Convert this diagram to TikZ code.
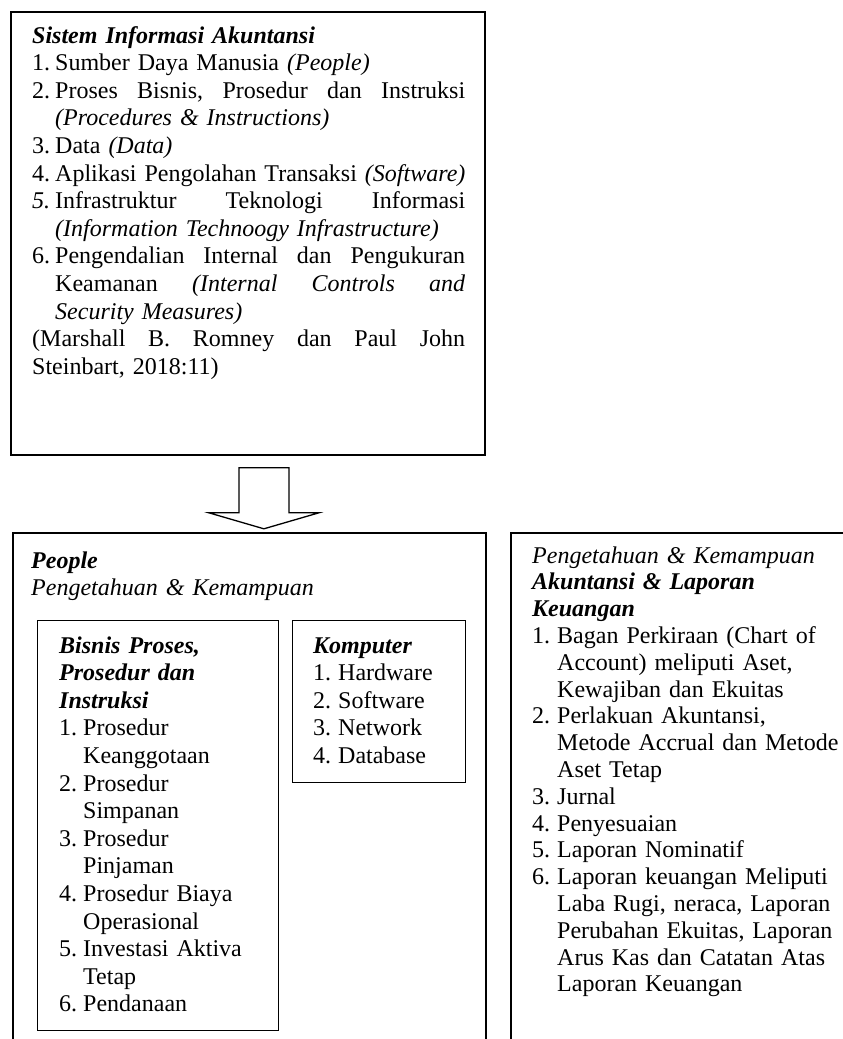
\documentclass[tikz,border=0pt]{standalone}
\usepackage{fontspec}
\setmainfont{Liberation Serif}
\usetikzlibrary{calc}
\newcommand\lnum[2]{\makebox[#1][l]{#2}}
\newcommand\sprd[2]{\leavevmode\hbox to #1{#2}}
\newcommand\bi[1]{\textbf{\textit{#1}}}
\begin{document}
\begin{tikzpicture}[x=1pt,y=-1pt,
  box/.style={draw=black, line width=1.8pt, inner sep=0pt, anchor=north west},
  inbox/.style={draw=black, line width=1.4pt, inner sep=0pt, anchor=north west},
  txt/.style={inner sep=0pt, anchor=base west, align=left, font=\fontsize{24}{27.6}\selectfont},
  txtr/.style={txt, font=\fontsize{24}{26.8}\selectfont},
  blockarrow/.style={draw=black, line width=1.3pt, line join=miter, fill=white}]
\useasboundingbox (0,0) rectangle (843,1039);
\fill[white] (0,0) rectangle (843,1039);
\clip (0,0) rectangle (843,1039);
% boxes
\node[box, minimum width=474pt, minimum height=443pt] (sia) at (10,11) {};
\node[box, minimum width=473pt, minimum height=600pt] (people) at (12,532) {};
\node[box, minimum width=400pt, minimum height=600pt] (akt) at (510,532) {};
\node[inbox, minimum width=241pt, minimum height=410pt] (bp) at (37,620) {};
\node[inbox, minimum width=173pt, minimum height=162pt] (kom) at (292,620) {};
% block arrow from sia to people
\coordinate (ar) at ($(sia.south)+(16,12)$);
\draw[blockarrow] (ar) ++(-25,0) -- ++(50,0) -- ++(0,45) -- ++(30,0) -- ++(-55,16) -- ++(-55,-16) -- ++(30,0) -- cycle;
% texts
\node[txt, text width=440pt] (siatext) at (32,43) {%
\bi{Sistem Informasi Akuntansi}\\
\lnum{23pt}{1.}Sumber Daya Manusia \textit{(People)}\\
\lnum{23pt}{2.}\sprd{410pt}{Proses\hfill Bisnis,\hfill Prosedur\hfill dan\hfill Instruksi}\\
\hspace*{23pt}\textit{(Procedures \& Instructions)}\\
\lnum{23pt}{3.}Data \textit{(Data)}\\
\lnum{23pt}{4.}Aplikasi Pengolahan Transaksi \textit{(Software)}\\
\lnum{23pt}{\textit{5.}}\sprd{410pt}{Infrastruktur\hfill Teknologi\hfill Informasi}\\
\hspace*{23pt}\textit{(Information Technoogy Infrastructure)}\\
\lnum{23pt}{6.}\sprd{410pt}{Pengendalian\hfill Internal\hfill dan\hfill Pengukuran}\\
\hspace*{23pt}\sprd{410pt}{Keamanan\hfill\textit{(Internal}\hfill\textit{Controls}\hfill\textit{and}}\\
\hspace*{23pt}\textit{Security Measures)}\\
\sprd{433pt}{(Marshall\hfill B.\hfill Romney\hfill dan\hfill Paul\hfill John}\\
Steinbart, 2018:11)};
\node[txt, text width=440pt] (peopletext) at (31,568) {%
\bi{People}\\
\textit{Pengetahuan \& Kemampuan}};
\node[txt, text width=215pt] (bptext) at (59,653) {%
\bi{Bisnis Proses,}\\
\bi{Prosedur dan}\\
\bi{Instruksi}\\
\lnum{24pt}{1.}Prosedur\\
\hspace*{24pt}Keanggotaan\\
\lnum{24pt}{2.}Prosedur\\
\hspace*{24pt}Simpanan\\
\lnum{24pt}{3.}Prosedur\\
\hspace*{24pt}Pinjaman\\
\lnum{24pt}{4.}Prosedur Biaya\\
\hspace*{24pt}Operasional\\
\lnum{24pt}{5.}Investasi Aktiva\\
\hspace*{24pt}Tetap\\
\lnum{24pt}{6.}Pendanaan};
\node[txt, text width=150pt] (komtext) at (313,653) {%
\bi{Komputer}\\
\lnum{25pt}{1.}Hardware\\
\lnum{25pt}{2.}Software\\
\lnum{25pt}{3.}Network\\
\lnum{25pt}{4.}Database};
\node[txtr, text width=320pt] (akttext) at (532,563) {%
\textit{Pengetahuan \& Kemampuan}\\
\bi{Akuntansi \& Laporan}\\
\bi{Keuangan}\\
\lnum{25pt}{1.}Bagan Perkiraan (Chart of\\
\hspace*{25pt}Account) meliputi Aset,\\
\hspace*{25pt}Kewajiban dan Ekuitas\\
\lnum{25pt}{2.}Perlakuan Akuntansi,\\
\hspace*{25pt}Metode Accrual dan Metode\\
\hspace*{25pt}Aset Tetap\\
\lnum{25pt}{3.}Jurnal\\
\lnum{25pt}{4.}Penyesuaian\\
\lnum{25pt}{5.}Laporan Nominatif\\
\lnum{25pt}{6.}Laporan keuangan Meliputi\\
\hspace*{25pt}Laba Rugi, neraca, Laporan\\
\hspace*{25pt}Perubahan Ekuitas, Laporan\\
\hspace*{25pt}Arus Kas dan Catatan Atas\\
\hspace*{25pt}Laporan Keuangan};
\end{tikzpicture}
\end{document}
